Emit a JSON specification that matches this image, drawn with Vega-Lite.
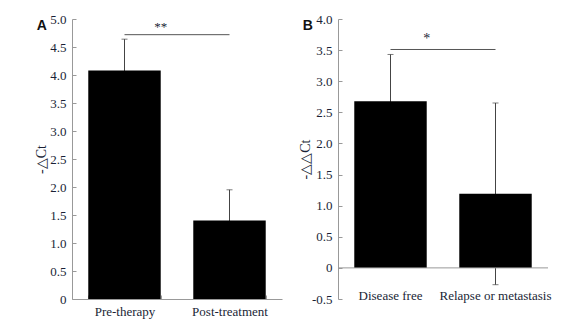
{
  "$schema": "https://vega.github.io/schema/vega-lite/v6.json",
  "padding": {"left": 34, "top": 13, "right": 5, "bottom": 5},
  "spacing": 16,
  "config": {
    "view": {"stroke": null},
    "axis": {
      "grid": false,
      "domainColor": "#999999",
      "tickColor": "#999999",
      "labelFont": "Liberation Serif",
      "labelFontSize": 13,
      "labelColor": "#1a1f36",
      "labelOverlap": false,
      "titleFont": "Liberation Serif",
      "titleFontSize": 14,
      "titleFontWeight": "normal",
      "titleColor": "#1a1f36"
    }
  },
  "hconcat": [
    {
      "width": 210,
      "height": 280,
      "title": {"text": "A", "orient": "left", "anchor": "end", "angle": 0, "font": "Liberation Sans", "fontSize": 14, "fontWeight": "bold", "color": "#111111", "offset": -18, "dy": 13, "baseline": "middle", "align": "center"},
      "layer": [
        {
          "data": {"values": [
            {"group": "Pre-therapy", "value": 4.08, "lo": 3.52, "hi": 4.64},
            {"group": "Post-treatment", "value": 1.40, "lo": 0.85, "hi": 1.95}
          ]},
          "layer": [
            {
              "mark": {"type": "rule", "color": "#444444", "strokeWidth": 1},
              "encoding": {
                "x": {"field": "group", "type": "nominal", "scale": {"domain": ["Pre-therapy", "Post-treatment"], "paddingInner": 0.31, "paddingOuter": 0.155},
                  "axis": {"title": null, "labelAngle": 0, "labelOverlap": false, "tickBand": "extent", "tickSize": -4, "labelPadding": 10}},
                "y": {"field": "lo", "type": "quantitative", "scale": {"domain": [0, 5]},
                  "axis": {"title": "-△Ct", "values": [0, 0.5, 1, 1.5, 2, 2.5, 3, 3.5, 4, 4.5, 5], "tickCount": 30, "labelOverlap": false, "labelExpr": "datum.value == 0 ? '0' : format(datum.value, '.1f')", "tickSize": -4, "labelPadding": 10, "titleX": -31, "titleY": 140, "titleBaseline": "middle"}},
                "y2": {"field": "hi"}
              }
            },
            {
              "mark": {"type": "tick", "color": "#444444", "size": 6, "thickness": 1},
              "encoding": {
                "x": {"field": "group", "type": "nominal"},
                "y": {"field": "hi", "type": "quantitative"}
              }
            },
            {
              "mark": {"type": "bar", "color": "#000000"},
              "encoding": {
                "x": {"field": "group", "type": "nominal"},
                "y": {"field": "value", "type": "quantitative"}
              }
            }
          ]
        },
        {
          "data": {"values": [{"g1": "Pre-therapy", "g2": "Post-treatment", "y": 4.72, "label": "**"}]},
          "layer": [
            {
              "mark": {"type": "rule", "color": "#555555", "strokeWidth": 1},
              "encoding": {
                "x": {"field": "g1", "type": "nominal"},
                "x2": {"field": "g2"},
                "y": {"field": "y", "type": "quantitative"}
              }
            },
            {
              "mark": {"type": "text", "font": "Liberation Serif", "fontSize": 13, "baseline": "bottom", "dy": -1, "color": "#1a1f36"},
              "encoding": {
                "x": {"field": "g1", "type": "nominal", "bandPosition": 1},
                "y": {"field": "y", "type": "quantitative"},
                "text": {"field": "label"}
              }
            }
          ]
        }
      ]
    },
    {
      "width": 210,
      "height": 280,
      "title": {"text": "B", "orient": "left", "anchor": "end", "angle": 0, "font": "Liberation Sans", "fontSize": 14, "fontWeight": "bold", "color": "#111111", "offset": -20, "dy": 13, "baseline": "middle", "align": "center"},
      "layer": [
        {
          "data": {"values": [
            {"group": "Disease free", "value": 2.68, "lo": 1.93, "hi": 3.43},
            {"group": "Relapse or metastasis", "value": 1.19, "lo": -0.27, "hi": 2.65}
          ]},
          "layer": [
            {
              "mark": {"type": "rule", "color": "#444444", "strokeWidth": 1},
              "encoding": {
                "x": {"field": "group", "type": "nominal", "scale": {"domain": ["Disease free", "Relapse or metastasis"], "paddingInner": 0.31, "paddingOuter": 0.155},
                  "axis": {"title": null, "labelAngle": 0, "labelOverlap": false, "domain": false, "ticks": false, "labelPadding": -10}},
                "y": {"field": "lo", "type": "quantitative", "scale": {"domain": [-0.5, 4]},
                  "axis": {"title": "-△△Ct", "values": [-0.5, 0, 0.5, 1, 1.5, 2, 2.5, 3, 3.5, 4], "tickCount": 30, "labelOverlap": false, "labelExpr": "datum.value == 0 ? '0' : (datum.value < 0 ? '-' + format(-datum.value, '.1f') : format(datum.value, '.1f'))", "tickSize": -4, "labelPadding": 10, "titleX": -33, "titleY": 140, "titleBaseline": "middle"}},
                "y2": {"field": "hi"}
              }
            },
            {
              "mark": {"type": "tick", "color": "#444444", "size": 6, "thickness": 1},
              "encoding": {
                "x": {"field": "group", "type": "nominal"},
                "y": {"field": "hi", "type": "quantitative"}
              }
            },
            {
              "mark": {"type": "tick", "color": "#444444", "size": 6, "thickness": 1},
              "encoding": {
                "x": {"field": "group", "type": "nominal"},
                "y": {"field": "lo", "type": "quantitative"}
              }
            },
            {
              "mark": {"type": "bar", "color": "#000000"},
              "encoding": {
                "x": {"field": "group", "type": "nominal"},
                "y": {"field": "value", "type": "quantitative"}
              }
            }
          ]
        },
        {
          "data": {"values": [{"zero": 0}]},
          "mark": {"type": "rule", "color": "#999999", "strokeWidth": 1},
          "encoding": {
            "y": {"field": "zero", "type": "quantitative"}
          }
        },
        {
          "data": {"values": [{"g1": "Disease free", "g2": "Relapse or metastasis", "y": 3.51, "label": "*"}]},
          "layer": [
            {
              "mark": {"type": "rule", "color": "#555555", "strokeWidth": 1},
              "encoding": {
                "x": {"field": "g1", "type": "nominal"},
                "x2": {"field": "g2"},
                "y": {"field": "y", "type": "quantitative"}
              }
            },
            {
              "mark": {"type": "text", "font": "Liberation Serif", "fontSize": 14, "baseline": "bottom", "dy": -3, "color": "#1a1f36"},
              "encoding": {
                "x": {"field": "g1", "type": "nominal", "bandPosition": 1},
                "y": {"field": "y", "type": "quantitative"},
                "text": {"field": "label"}
              }
            }
          ]
        }
      ]
    }
  ]
}
